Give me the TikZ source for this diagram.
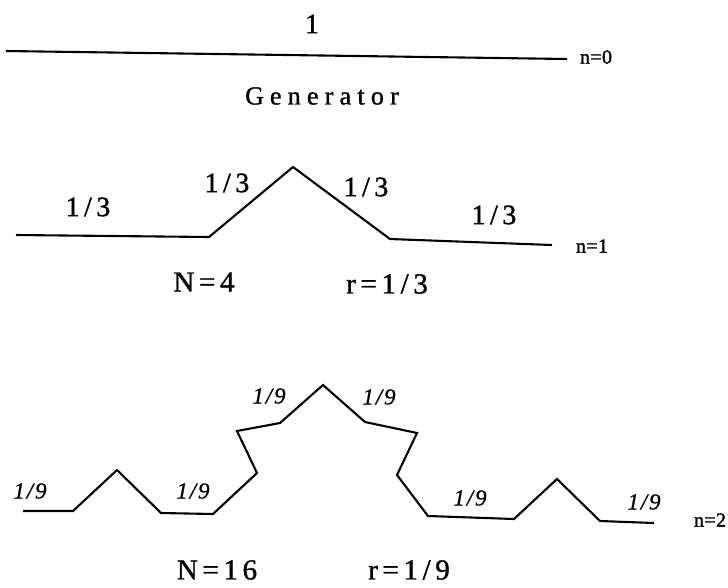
\documentclass[tikz,border=0pt]{standalone}
\usepackage{fontspec}
\setmainfont{Liberation Serif}
\newfontfamily\spacedfont[LetterSpace=16,FakeBold=1.2]{Liberation Serif}
\newfontfamily\widefont[LetterSpace=24,FakeBold=1.2]{Liberation Serif}
\newfontfamily\italfont[LetterSpace=8,FakeBold=0.8]{Liberation Serif Italic}
\newfontfamily\levelfont[LetterSpace=2,FakeBold=1.5]{Liberation Serif}
\begin{document}
\begin{tikzpicture}[x=1pt,y=-1pt,
  curve/.style={line width=2.1pt, line join=miter},
  big/.style={inner sep=0pt, font=\spacedfont\fontsize{29}{32}\selectfont},
  lab/.style={inner sep=0pt, font=\spacedfont\fontsize{28}{30}\selectfont},
  small/.style={inner sep=0pt, font=\italfont\fontsize{23}{25}\selectfont},
  level/.style={inner sep=0pt, font=\levelfont\fontsize{20}{22}\selectfont}]
\useasboundingbox (0,0) rectangle (728,587);
% n = 0
\coordinate (a0) at (6,51);
\coordinate (a1) at (567,59);
\draw[curve] (a0) -- (a1);
\node[lab] (one) at (312,24) {1};
\node[level] (n0) at (596,57) {n=0};
\node[inner sep=0pt, font=\widefont\fontsize{26}{28}\selectfont] (gen) at (322,96) {G\hspace{6pt}enerator};
% n = 1
\coordinate (b0) at (16,235);
\coordinate (b1) at (209,237);
\coordinate (b2) at (293,167);
\coordinate (b3) at (390,239);
\coordinate (b4) at (552,245);
\draw[curve] (b0) -- (b1) -- (b2) -- (b3) -- (b4);
\node[lab] (t1) at (88,207) {1/3};
\node[lab] (t2) at (227,183) {1/3};
\node[lab] (t3) at (366,187) {1/3};
\node[lab] (t4) at (494,215) {1/3};
\node[level] (n1) at (592,246) {n=1};
\node[big] (N4) at (204,282) {N=4};
\node[big] (r3) at (387,284) {r=1/3};
% n = 2
\coordinate (c0) at (23,511);
\coordinate (c1) at (73,511);
\coordinate (c2) at (117,470);
\coordinate (c3) at (161,513);
\coordinate (c4) at (213,514);
\coordinate (c5) at (257,473);
\coordinate (c6) at (237,431);
\coordinate (c7) at (280,423);
\coordinate (c8) at (323,385);
\coordinate (c9) at (365,422);
\coordinate (c10) at (417,433);
\coordinate (c11) at (397,475);
\coordinate (c12) at (428,516);
\coordinate (c13) at (514,519);
\coordinate (c14) at (557,479);
\coordinate (c15) at (600,521);
\coordinate (c16) at (654,523);
\draw[curve] (c0) -- (c1) -- (c2) -- (c3) -- (c4) -- (c5) -- (c6) -- (c7) -- (c8)
  -- (c9) -- (c10) -- (c11) -- (c12) -- (c13) -- (c14) -- (c15) -- (c16);
\node[small] (s1) at (30,491) {1/9};
\node[small] (s2) at (193,491) {1/9};
\node[small] (s3) at (269,396) {1/9};
\node[small] (s4) at (379,397) {1/9};
\node[small] (s5) at (470,498) {1/9};
\node[small] (s6) at (644,502) {1/9};
\node[level] (n2) at (710,520) {n=2};
\node[big] (N16) at (217,570) {N=16};
\node[big] (r9) at (409,570) {r=1/9};
\end{tikzpicture}
\end{document}
